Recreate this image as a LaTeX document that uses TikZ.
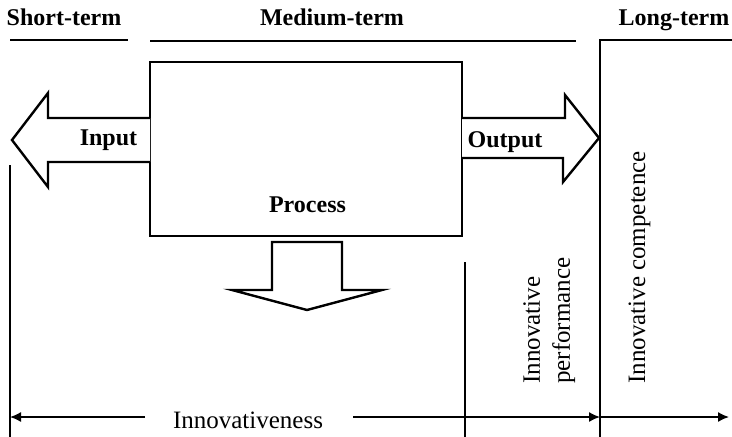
\documentclass[tikz,border=0pt]{standalone}
\usepackage{fontspec}
\setmainfont{Liberation Serif}
\usetikzlibrary{arrows.meta}
\begin{document}
\begin{tikzpicture}[x=1pt,y=-1pt,
  thick box/.style={line width=2.8pt, line join=miter},
  fat arrow/.style={line width=2.4pt, line join=miter, fill=white},
  thin rule/.style={line width=1.6pt},
  timeline/.style={line width=1.5pt, -{Latex[length=11pt,width=10pt]}},
  headlabel/.style={font=\fontsize{24}{28}\selectfont\bfseries, inner sep=0pt, anchor=base},
  bodylabel/.style={font=\fontsize{25}{30}\selectfont, inner sep=0pt}]
\useasboundingbox (0,0) rectangle (732,437);
% period headings
\node[headlabel] (short) at (64,25) {Short-term};
\node[headlabel] (medium) at (332,25) {Medium-term};
\node[headlabel] (long) at (674,25) {Long-term};
\coordinate (s1) at (10,40); \coordinate (s2) at (128,40);
\coordinate (m1) at (150,41); \coordinate (m2) at (576,41);
\coordinate (l1) at (600,40); \coordinate (l2) at (732,40);
\draw[thin rule] (s1) -- (s2);
\draw[thin rule] (m1) -- (m2);
\draw[thin rule] (l2) -- (l1) -- (600,437);
% process box
\draw[thick box] (150,62) rectangle (462,236);
\node[headlabel] (process) at (307.5,212) {Process};
% input arrow
\draw[fat arrow] (150,118) -- (48,118) -- (48,93) -- (12,140) -- (48,187) -- (48,162) -- (150,162);
\node[headlabel] (input) at (108.5,145) {Input};
% output arrow
\draw[fat arrow] (462,118) -- (565,118) -- (565,95) -- (599,138) -- (563,182) -- (563,158) -- (462,158);
\node[headlabel] (output) at (505,147) {Output};
% down arrow
\draw[fat arrow] (272,242) -- (342,242) -- (342,290) -- (382,290) -- (307,310) -- (232,290) -- (272,290) -- cycle;
% vertical rules
\draw[thin rule] (10,165) -- (10,437);
\draw[thin rule] (465,262) -- (465,437);
% rotated labels
\node[bodylabel, rotate=90, anchor=north west, align=left] (perf) at (523,384) {Innovative\\performance};
\node[bodylabel, rotate=90, anchor=base west] (comp) at (645,384) {Innovative competence};
% bottom timeline
\node[bodylabel, anchor=base] (innov) at (248,428) {Innovativeness};
\coordinate (t0) at (10,417); \coordinate (t1) at (145,417);
\coordinate (t2) at (353,417); \coordinate (t3) at (600,417); \coordinate (t4) at (729,417);
\draw[timeline] (t1) -- (t0);
\draw[timeline] (t2) -- (t3);
\draw[timeline] (t3) -- (t4);
\end{tikzpicture}
\end{document}
